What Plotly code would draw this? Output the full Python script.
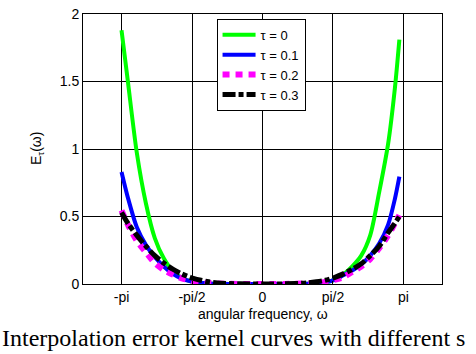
import plotly.graph_objects as go

# angular frequency samples (rad)
omega = [-3.1416, -3.0, -2.8, -2.6, -2.4, -2.2, -2.0, -1.8, -1.6, -1.4, -1.2, -1.0, -0.5, 0.0,
         0.5, 1.0, 1.2, 1.4, 1.6, 1.8, 2.0, 2.2, 2.4, 2.6, 2.8, 2.95, 3.05]

E_tau0 = [1.88, 1.50, 0.97, 0.60, 0.34, 0.19, 0.095, 0.045, 0.02, 0.008, 0.003, 0.001, 0.0, 0.0,
          0.0, 0.002, 0.005, 0.012, 0.03, 0.07, 0.13, 0.21, 0.36, 0.68, 1.04, 1.45, 1.81]
E_tau1 = [0.83, 0.64, 0.42, 0.29, 0.20, 0.13, 0.075, 0.04, 0.02, 0.009, 0.004, 0.0015, 0.0, 0.0,
          0.0, 0.002, 0.006, 0.013, 0.03, 0.065, 0.10, 0.145, 0.21, 0.30, 0.44, 0.63, 0.795]
E_tau2 = [0.545, 0.44, 0.32, 0.235, 0.155, 0.105, 0.07, 0.042, 0.025, 0.014, 0.007, 0.003, 0.0005, 0.0,
          0.0005, 0.004, 0.008, 0.016, 0.03, 0.05, 0.09, 0.13, 0.185, 0.265, 0.36, 0.45, 0.51]
E_tau3 = [0.53, 0.45, 0.36, 0.28, 0.21, 0.155, 0.11, 0.075, 0.048, 0.03, 0.016, 0.008, 0.001, 0.0,
          0.001, 0.008, 0.016, 0.028, 0.048, 0.075, 0.11, 0.15, 0.21, 0.28, 0.38, 0.45, 0.50]

series_names = ["τ = 0", "τ = 0.1", "τ = 0.2", "τ = 0.3"]

x_tick_vals = [-3.14159, -1.5708, 0.0, 1.5708, 3.14159]
x_tick_text = ["-pi", "-pi/2", "0", "pi/2", "pi"]
y_tick_vals = [0, 0.5, 1, 1.5, 2]
y_tick_text = ["0", "0.5", "1", "1.5", "2"]

styles = [
    dict(color="#00ff00", width=4, dash="solid"),
    dict(color="#0000ff", width=4, dash="solid"),
    dict(color="#ff00ff", width=6, dash="7px,6px"),
    dict(color="#000000", width=5, dash="13px,3px,5px,3px"),
]

fig = go.Figure()
for name, vals, st in zip(series_names, [E_tau0, E_tau1, E_tau2, E_tau3], styles):
    fig.add_trace(go.Scatter(x=omega, y=vals, mode="lines", name=name,
                             line=dict(color=st["color"], width=st["width"], dash=st["dash"],
                                       shape="spline", smoothing=0.8),
                             cliponaxis=False))

font_sans = "Liberation Sans, Arial, sans-serif"
fig.update_layout(
    width=476, height=354,
    margin=dict(l=83, r=34, t=6, b=70),
    paper_bgcolor="white", plot_bgcolor="white",
    font=dict(family=font_sans, size=14, color="black"),
    showlegend=True,
    legend=dict(x=0.372, y=0.982, xanchor="left", yanchor="top",
                bgcolor="white", bordercolor="black", borderwidth=1,
                font=dict(family=font_sans, size=13, color="black"),
                itemwidth=33, tracegroupgap=0),
    xaxis=dict(range=[-4, 4], tickvals=x_tick_vals, ticktext=x_tick_text,
               showgrid=True, gridcolor="black", gridwidth=1,
               showline=True, linecolor="black", linewidth=1, mirror=True,
               ticks="inside", ticklen=3, tickcolor="black", zeroline=False,
               tickfont=dict(size=14), ticklabeloverflow="allow"),
    yaxis=dict(range=[0, 2], tickvals=y_tick_vals, ticktext=y_tick_text,
               showgrid=True, gridcolor="black", gridwidth=1,
               showline=True, linecolor="black", linewidth=1, mirror=True,
               ticks="inside", ticklen=3, tickcolor="black", zeroline=False,
               tickfont=dict(size=14), ticklabeloverflow="allow"),
    annotations=[
        dict(text="angular frequency, ω", x=0.5, y=-0.112, xref="paper", yref="paper",
             xanchor="center", yanchor="middle", showarrow=False, font=dict(size=14)),
        dict(text="E<sub>τ</sub>(ω)", x=-0.128, y=0.5, xref="paper", yref="paper",
             xanchor="center", yanchor="middle", showarrow=False, textangle=-90,
             font=dict(size=14)),
        dict(text="Interpolation error kernel curves with different s", x=-0.231, y=-0.201,
             xref="paper", yref="paper", xanchor="left", yanchor="middle", showarrow=False,
             font=dict(family="Liberation Serif, Times New Roman, serif", size=24)),
    ],
)

fig.write_html("out.html", config={"displayModeBar": False},
               post_script="document.body.style.margin='0';")
